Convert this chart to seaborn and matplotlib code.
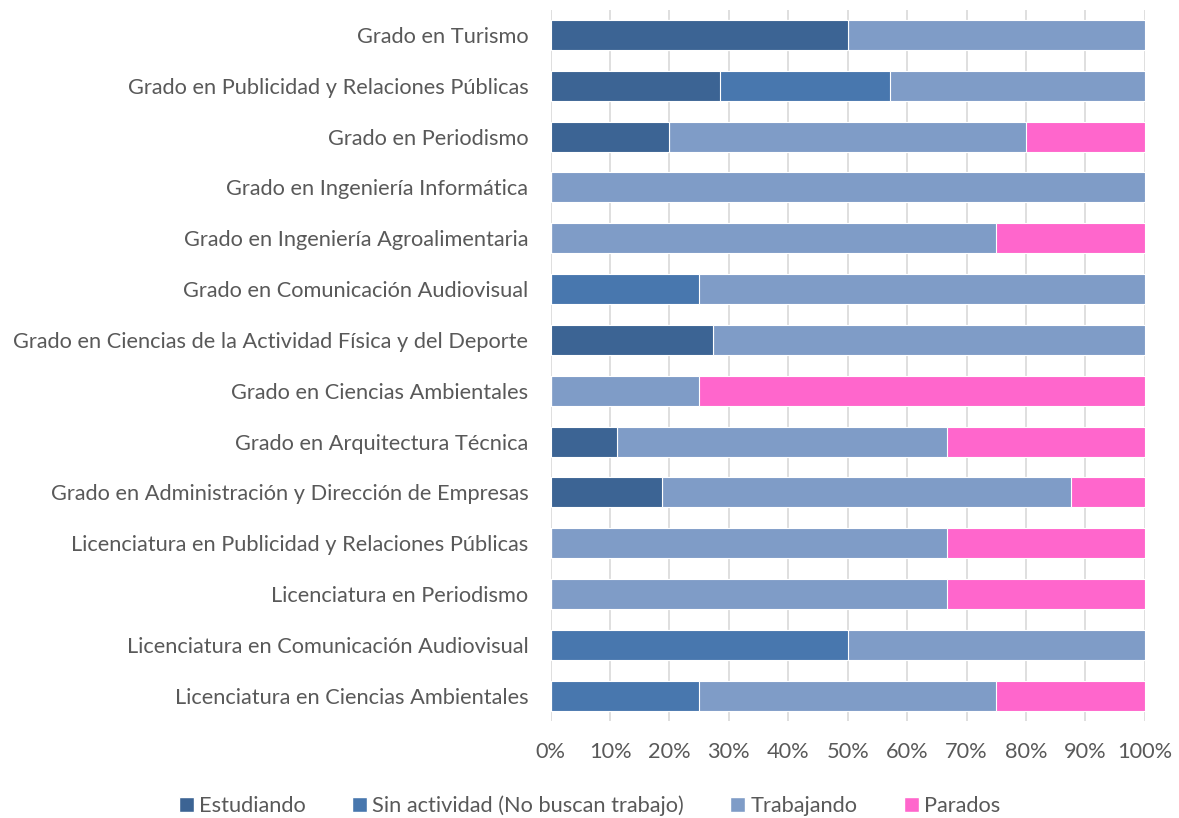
import pandas as pd
import matplotlib.pyplot as plt
import seaborn as sns
from matplotlib.patches import Patch
from matplotlib.ticker import PercentFormatter

titulaciones = [
    "Grado en Turismo",
    "Grado en Publicidad y Relaciones Públicas",
    "Grado en Periodismo",
    "Grado en Ingeniería Informática",
    "Grado en Ingeniería Agroalimentaria",
    "Grado en Comunicación Audiovisual",
    "Grado en Ciencias de la Actividad Física y del Deporte",
    "Grado en Ciencias Ambientales",
    "Grado en Arquitectura Técnica",
    "Grado en Administración y Dirección de Empresas",
    "Licenciatura en Publicidad y Relaciones Públicas",
    "Licenciatura en Periodismo",
    "Licenciatura en Comunicación Audiovisual",
    "Licenciatura en Ciencias Ambientales",
]

estudiando    = [50.0, 28.57, 20.0, 0, 0, 0, 27.27, 0, 11.11, 18.75, 0, 0, 0, 0]
sin_actividad = [0, 28.57, 0, 0, 0, 25.0, 0, 0, 0, 0, 0, 0, 50.0, 25.0]
trabajando    = [50.0, 42.86, 60.0, 100.0, 75.0, 75.0, 72.73, 25.0, 55.56, 68.75, 66.67, 66.67, 50.0, 50.0]
parados       = [0, 0, 20.0, 0, 25.0, 0, 0, 75.0, 33.33, 12.5, 33.33, 33.33, 0, 25.0]

series = ["Estudiando", "Sin actividad (No buscan trabajo)", "Trabajando", "Parados"]
colores = ["#3C6494", "#4877AE", "#7F9CC7", "#FF66CC"]

df = pd.DataFrame({
    "Titulación": titulaciones,
    "Estudiando": estudiando,
    "Sin actividad (No buscan trabajo)": sin_actividad,
    "Trabajando": trabajando,
    "Parados": parados,
})

# cumulative sums so the stacked bars can be drawn back to front
cum = df[series].cumsum(axis=1)

sns.set_style("white")
plt.rcParams["font.family"] = ["Lato", "DejaVu Sans"]
texto = "#595959"

fig = plt.figure(figsize=(11.79, 8.18), dpi=100)
ax = fig.add_axes([0.467, 0.1186, 0.504, 0.8696])

for serie, color in reversed(list(zip(series, colores))):
    sns.barplot(x=cum[serie], y=df["Titulación"], order=titulaciones, orient="h",
                color=color, width=0.59, edgecolor="white", linewidth=0.8,
                saturation=1, ax=ax)

ax.set_xlim(0, 100)
ax.set_xticks(range(0, 101, 10))
ax.xaxis.set_major_formatter(PercentFormatter(decimals=0))
ax.grid(axis="x", color="#D9D9D9", linewidth=1.2)
ax.set_axisbelow(True)
for s in ax.spines.values():
    s.set_visible(False)
ax.set_xlabel("")
ax.set_ylabel("")
ax.tick_params(axis="both", length=0, labelsize=15.7, colors=texto)
ax.tick_params(axis="x", pad=15)
ax.tick_params(axis="y", pad=16)

handles = [Patch(facecolor=c, label=s) for s, c in zip(series, colores)]
leg = fig.legend(handles=handles, loc="lower center", bbox_to_anchor=(0.5, -0.022), ncol=4,
                 frameon=False, fontsize=15.7, handlelength=0.7, handleheight=0.7,
                 handletextpad=0.25, columnspacing=2.1)
for t in leg.get_texts():
    t.set_color(texto)

fig.savefig("out.png", dpi=100)
